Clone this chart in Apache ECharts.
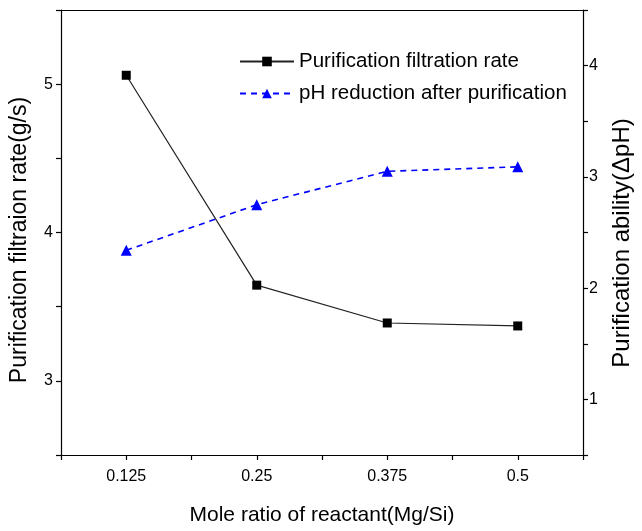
<!DOCTYPE html>
<html>
<head>
<meta charset="utf-8">
<script src="https://cdn.jsdelivr.net/npm/echarts@6/dist/echarts.min.js"></script>
<style>
html,body{margin:0;padding:0;background:#fff;}
#c{width:642px;height:531px;}
</style>
</head>
<body>
<div id="c"></div>
<script>
var xValues = [0.125, 0.25, 0.375, 0.5];
var filtrationRate = [5.06, 3.645, 3.39, 3.37];
var phReduction = [2.34, 2.75, 3.05, 3.09];
var xTickLabels = [0.125, 0.25, 0.375, 0.5];
var leftTickLabels = [3, 4, 5];
var rightTickLabels = [1, 2, 3, 4];

var FONT = 'Liberation Sans, Arial, sans-serif';
function pairs(xs, ys){ return xs.map(function(x,i){ return [x, ys[i]]; }); }
function near(list, v){ return list.some(function(t){ return Math.abs(t - v) < 1e-6; }); }

var chart = echarts.init(document.getElementById('c'));
chart.setOption({
  animation: false,
  backgroundColor: '#fff',
  textStyle: { fontFamily: FONT },
  grid: { left: 61, right: 43, top: 10, bottom: 71, containLabel: false },
  legend: {
    orient: 'vertical',
    left: 234, top: 46,
    itemWidth: 54, itemHeight: 12, itemGap: 11,
    textStyle: { fontFamily: FONT, fontSize: 20.5, color: '#000' },
    data: ['Purification filtration rate', 'pH reduction after purification']
  },
  xAxis: [{
    type: 'value', position: 'bottom',
    min: 0.0625, max: 0.5625, interval: 0.0625,
    name: 'Mole ratio of reactant(Mg/Si)', nameLocation: 'middle', nameGap: 50,
    nameTextStyle: { fontFamily: FONT, fontSize: 21, color: '#000' },
    axisLine: { lineStyle: { color: '#000', width: 1.2 } },
    axisTick: { show: true, inside: false, length: 5, lineStyle: { color: '#000', width: 1.2 } },
    axisLabel: { fontFamily: FONT, fontSize: 16, color: '#000', margin: 14,
      formatter: function(v){ return near(xTickLabels, v) ? String(v) : ''; } },
    splitLine: { show: false }
  }, {
    type: 'value', position: 'top',
    min: 0.0625, max: 0.5625,
    axisLine: { show: true, lineStyle: { color: '#000', width: 1.2 } },
    axisTick: { show: false }, axisLabel: { show: false }, splitLine: { show: false }
  }],
  yAxis: [{
    type: 'value', position: 'left',
    min: 2.5, max: 5.5, interval: 0.5,
    name: 'Purification filtraion rate(g/s)', nameLocation: 'middle', nameGap: 30,
    nameRotate: 90,
    nameTextStyle: { fontFamily: FONT, fontSize: 23, color: '#000', padding: [0, 15, 0, 0] },
    axisLine: { show: true, lineStyle: { color: '#000', width: 1.2 } },
    axisTick: { show: true, inside: false, length: 5, lineStyle: { color: '#000', width: 1.2 } },
    axisLabel: { fontFamily: FONT, fontSize: 16, color: '#000', margin: 8,
      formatter: function(v){ return near(leftTickLabels, v) ? String(v) : ''; } },
    splitLine: { show: false }
  }, {
    type: 'value', position: 'right',
    min: 0.5, max: 4.5, interval: 0.5,
    name: 'Purification ability(ΔpH)', nameLocation: 'middle', nameGap: 27,
    nameRotate: 90,
    nameTextStyle: { fontFamily: FONT, fontSize: 24, color: '#000', padding: [0, 21, 0, 0] },
    axisLine: { show: true, lineStyle: { color: '#000', width: 1.2 } },
    axisTick: { show: true, inside: false, length: 5, lineStyle: { color: '#000', width: 1.2 } },
    axisLabel: { fontFamily: FONT, fontSize: 16, color: '#000', margin: 6,
      formatter: function(v){ return near(rightTickLabels, v) ? String(v) : ''; } },
    splitLine: { show: false }
  }],
  series: [{
    name: 'Purification filtration rate',
    type: 'line', xAxisIndex: 0, yAxisIndex: 0,
    data: pairs(xValues, filtrationRate),
    symbol: 'rect', symbolSize: 9,
    itemStyle: { color: '#000' },
    lineStyle: { color: '#222', width: 1.2 }
  }, {
    name: 'pH reduction after purification',
    type: 'line', xAxisIndex: 0, yAxisIndex: 1,
    data: pairs(xValues, phReduction),
    symbol: 'triangle', symbolSize: 11,
    itemStyle: { color: '#0000ff' },
    lineStyle: { color: '#0000ff', width: 1.6, type: [6, 5] }
  }]
});
</script>
</body>
</html>
